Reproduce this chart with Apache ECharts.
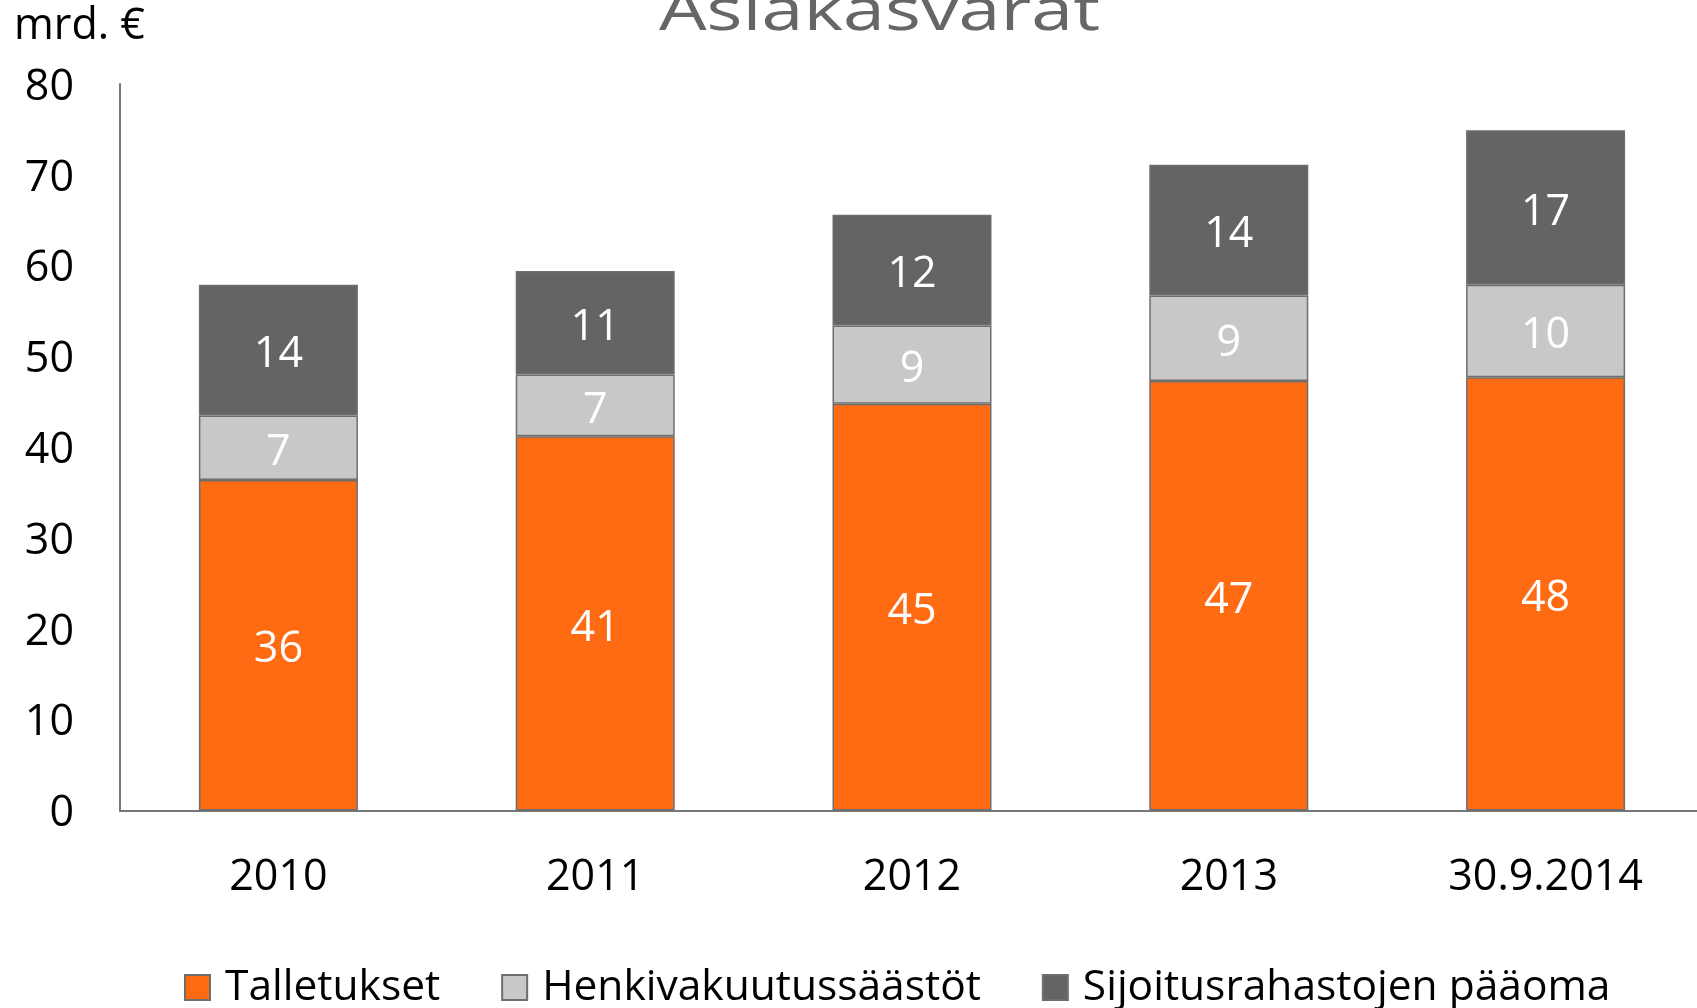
<!DOCTYPE html>
<html>
<head>
<meta charset="utf-8">
<title>Asiakasvarat</title>
<script src="https://cdn.jsdelivr.net/npm/echarts@6/dist/echarts.min.js"></script>
<style>
  html, body { margin: 0; padding: 0; background: #ffffff; }
  #chart { width: 1697px; height: 1008px; }
</style>
</head>
<body>
<div id="chart"></div>
<script>
// Asiakasvarat, mrd. €
const categories = ['2010', '2011', '2012', '2013', '30.9.2014'];
const talletukset = [36.4, 41.2, 44.8, 47.3, 47.7];
const henkivakuutussaastot = [7.1, 6.8, 8.6, 9.4, 10.2];
const sijoitusrahastot = [14.4, 11.4, 12.2, 14.4, 17.0];
const yTicks = [0, 10, 20, 30, 40, 50, 60, 70, 80];

const FONT = '"Open Sans", "Liberation Sans", sans-serif';
const BORDER = '#6e6e6e';

function stackSeries(name, values, color) {
  return {
    name: name,
    type: 'bar',
    stack: 'total',
    data: values,
    barWidth: 159,
    itemStyle: { color: color, borderColor: BORDER, borderWidth: 1.5 },
    label: {
      show: true,
      position: 'inside',
      offset: [0, 5],
      color: '#ffffff',
      fontFamily: FONT,
      fontSize: 43,
      formatter: function (p) { return String(Math.round(p.value)); }
    },
    emphasis: { disabled: true }
  };
}

const chart = echarts.init(document.getElementById('chart'), null, { renderer: 'canvas' });

chart.setOption({
  animation: false,
  backgroundColor: '#ffffff',
  grid: {
    left: 120, top: 84, width: 1584, height: 726.5,
    containLabel: false,
    outerBoundsMode: 'none'
  },
  graphic: [
    {
      type: 'text',
      x: 879.5,
      y: 13,
      scaleX: 1.3,
      style: {
        text: 'Asiakasvarat',
        fill: '#666666',
        font: '58px ' + FONT,
        align: 'center',
        verticalAlign: 'middle'
      }
    },
    {
      type: 'text',
      x: 14,
      y: 27,
      style: {
        text: 'mrd. €',
        fill: '#000000',
        font: '43px ' + FONT,
        align: 'left',
        verticalAlign: 'middle'
      }
    }
  ],
  legend: {
    left: 179,
    top: 961,
    itemWidth: 25,
    itemHeight: 25,
    itemGap: 61,
    icon: 'rect',
    textStyle: {
      color: '#000000',
      fontFamily: FONT,
      fontSize: 42.5,
      padding: [0, 0, 0, 10]
    },
    data: ['Talletukset', 'Henkivakuutussäästöt', 'Sijoitusrahastojen pääoma']
  },
  xAxis: {
    type: 'category',
    data: categories,
    axisLine: { show: true, lineStyle: { color: '#767676', width: 2 } },
    axisTick: { show: false },
    axisLabel: { color: '#000000', fontFamily: FONT, fontSize: 43, margin: 46 },
    splitLine: { show: false }
  },
  yAxis: {
    type: 'value',
    min: yTicks[0],
    max: yTicks[yTicks.length - 1],
    interval: 10,
    axisLine: { show: true, lineStyle: { color: '#767676', width: 2 } },
    axisTick: { show: false },
    axisLabel: {
      color: '#000000', fontFamily: FONT, fontSize: 43, margin: 46,
      verticalAlign: 'top',
      lineHeight: 7
    },
    splitLine: { show: false }
  },
  series: [
    stackSeries('Talletukset', talletukset, '#FF6B12'),
    stackSeries('Henkivakuutussäästöt', henkivakuutussaastot, '#C8C8C8'),
    stackSeries('Sijoitusrahastojen pääoma', sijoitusrahastot, '#646464')
  ]
});
</script>
</body>
</html>
